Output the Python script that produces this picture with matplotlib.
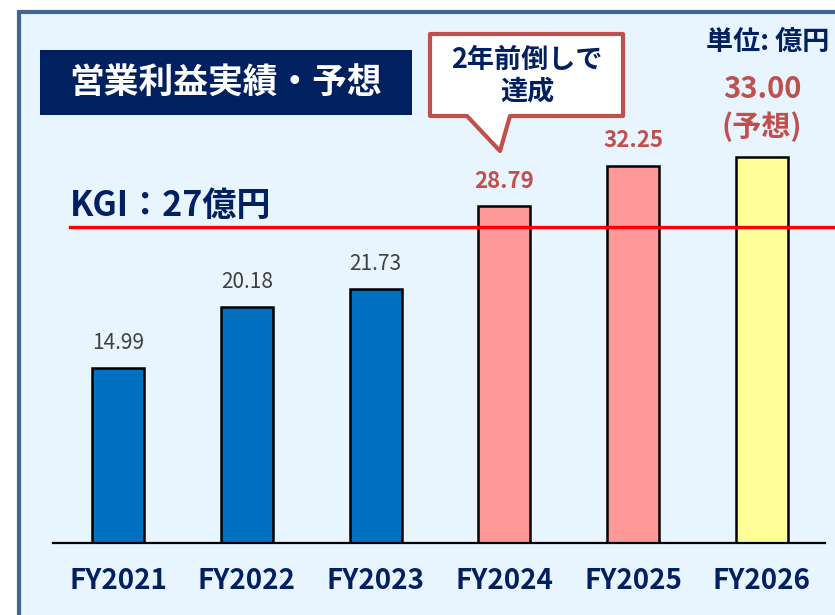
import matplotlib
matplotlib.use("Agg")
import matplotlib.pyplot as plt
from matplotlib.patches import Rectangle, Polygon

# data
years = ["FY2021", "FY2022", "FY2023", "FY2024", "FY2025", "FY2026"]
profit = [14.99, 20.18, 21.73, 28.79, 32.25, 33.00]
bar_colors = ["#0070c0", "#0070c0", "#0070c0", "#ff9999", "#ff9999", "#ffff99"]
label_colors = ["#404040", "#404040", "#404040", "#c0504d", "#c0504d", "#c0504d"]
label_bold = [False, False, False, True, True, True]
kgi = 27
kgi_text = "KGI：27億円"
title = "営業利益実績・予想"
unit_text = "単位: 億円"
callout_text = "2年前倒しで\n達成"
forecast_note = "(予想)"

CJK = ["Noto Sans CJK JP", "DejaVu Sans"]
NAVY = "#002060"

W, H = 835, 615
fig = plt.figure(figsize=(W / 100, H / 100), dpi=100)
fig.patch.set_facecolor("white")

# background / frame layer in pixel coordinates
bg = fig.add_axes([0, 0, 1, 1], zorder=0)
bg.set_xlim(0, W)
bg.set_ylim(H, 0)
bg.axis("off")
bg.add_patch(Rectangle((19, 12), W + 20, H + 20, facecolor="#e8f5fe",
                       edgecolor="#41658f", lw=3))

# main chart
ax = fig.add_axes([53 / W, (H - 543) / H, (825 - 53) / W, 543 / H], zorder=1)
ax.patch.set_alpha(0)
ax.set_xlim(-0.505, 5.49)
ax.set_ylim(0, 543 / 11.69)
x = list(range(len(years)))
ax.bar(x, profit, width=0.405, color=bar_colors, edgecolor="black", lw=1.8, zorder=2)
for s in ["top", "right", "left"]:
    ax.spines[s].set_visible(False)
ax.spines["bottom"].set_linewidth(1.6)
ax.set_yticks([])
ax.set_xticks(x)
ax.set_xticklabels(years, fontfamily=CJK, fontweight="bold", fontsize=20, color=NAVY)
ax.tick_params(axis="x", length=0, pad=17)

# KGI line
ax.plot([-0.373, 5.6], [kgi, kgi], color="#ff0000", lw=2.4, zorder=3, clip_on=False)
ax.annotate(kgi_text, (-0.373, kgi), xytext=(0, 8), textcoords="offset points",
            ha="left", va="baseline", fontsize=24.5, fontweight="bold",
            color=NAVY, fontfamily=CJK)

# value labels
for i, v in enumerate(profit):
    if i == len(profit) - 1:
        ax.annotate(forecast_note, (i, v), xytext=(0, 15), textcoords="offset points",
                    ha="center", va="baseline", fontsize=21, fontweight="bold",
                    color=label_colors[i], fontfamily=CJK)
        ax.annotate(f"{v:.2f}", (i, v), xytext=(0, 43), textcoords="offset points",
                    ha="center", va="baseline", fontsize=21, fontweight="bold",
                    color=label_colors[i], fontfamily=CJK)
    else:
        ax.annotate(f"{v:.2f}", (i, v), xytext=(0, 13.5), textcoords="offset points",
                    ha="center", va="baseline", fontsize=16 if label_bold[i] else 15,
                    fontweight="bold" if label_bold[i] else "normal",
                    color=label_colors[i], fontfamily=CJK)

# overlay: title box, unit, callout
ov = fig.add_axes([0, 0, 1, 1], zorder=4)
ov.set_xlim(0, W)
ov.set_ylim(H, 0)
ov.axis("off")
ov.add_patch(Rectangle((40, 50), 372, 65, facecolor=NAVY, edgecolor="none"))
ov.text(226, 83, title, ha="center", va="center", fontsize=25, fontweight="bold",
        color="white", fontfamily=CJK)
ov.text(829, 42, unit_text, ha="right", va="center", fontsize=19.5, fontweight="bold",
        color=NAVY, fontfamily=CJK)
callout = Polygon([(430, 34), (623, 34), (623, 116), (510, 116), (500, 151),
                   (467, 116), (430, 116)], closed=True, facecolor="white",
                  edgecolor="#c0504d", lw=3, joinstyle="round")
ov.add_patch(callout)
ov.text(527, 76, callout_text, ha="center", va="center", fontsize=19.5,
        fontweight="bold", color=NAVY, fontfamily=CJK, linespacing=1.15)

fig.savefig("out.png", dpi=100)
